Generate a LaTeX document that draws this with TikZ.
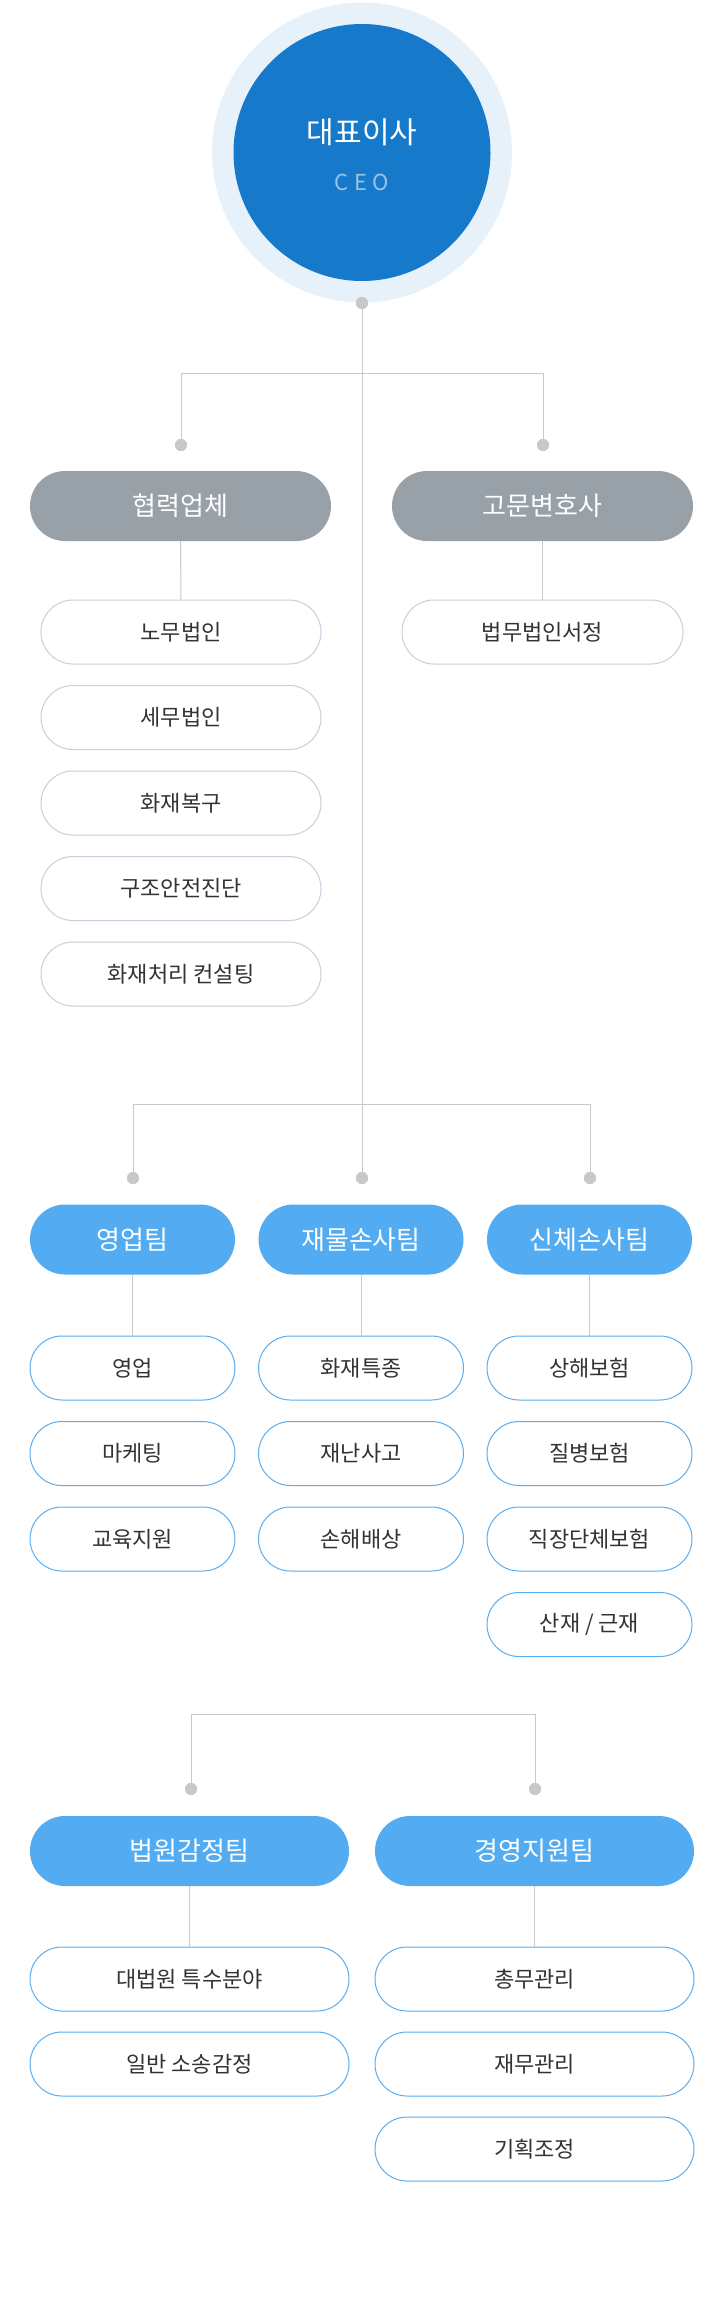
\documentclass[tikz,border=0pt]{standalone}
\usepackage{fontspec}
\usetikzlibrary{shapes.misc}
\setmainfont{Noto Sans CJK KR}
\newfontfamily\ceofont[LetterSpace=25]{Noto Sans CJK KR}
\definecolor{ceoin}{HTML}{1779C9}
\definecolor{ceoout}{HTML}{E6F1FA}
\definecolor{hgray}{HTML}{98A0A8}
\definecolor{hblue}{HTML}{53ACF2}
\definecolor{bblue}{HTML}{5AAEF0}
\definecolor{bgray}{HTML}{C5D0DD}
\definecolor{lnc}{HTML}{C8C8C8}
\definecolor{txt}{HTML}{333333}
\begin{document}
\begin{tikzpicture}[x=1pt,y=-1pt,
  ln/.style={draw=lnc,line width=1pt},
  dotn/.style={circle,fill=lnc,minimum size=12pt,inner sep=0pt},
  graybox/.style={rounded rectangle,fill=hgray,text=white,minimum height=70pt,font=\fontsize{26}{30}\selectfont,inner sep=0pt},
  bluebox/.style={rounded rectangle,fill=hblue,text=white,minimum height=70pt,font=\fontsize{26}{30}\selectfont,inner sep=0pt},
  wgbox/.style={rounded rectangle,draw=bgray,line width=1pt,fill=white,text=txt,minimum height=64pt,font=\fontsize{22}{26}\selectfont,inner sep=0pt},
  wbbox/.style={rounded rectangle,draw=bblue,line width=1pt,fill=white,text=txt,minimum height=64pt,font=\fontsize{22}{26}\selectfont,inner sep=0pt}]
\useasboundingbox[fill=white] (0,0) rectangle (720,2319);
% CEO
\fill[ceoout] (362,152.5) circle (150);
\node[circle,fill=ceoin,minimum size=257pt,inner sep=0pt] (ceo) at (362,152.5) {};
\node[text=white,font=\fontsize{30}{34}\selectfont] (ceot) at (362,132) {대표이사};
\node[text=white!55!ceoin,font=\fontsize{22}{26}\ceofont] (ceoe) at (362,182) {CEO};
\node[dotn] (d0) at (362,303) {};
% section 1
\coordinate (h1r) at (543,373);
\node[dotn] (d1l) at (181,445) {};
\node[dotn] (d1r) at (543,445) {};
\node[graybox,minimum width=301pt] (g1) at (180.5,506) {협력업체};
\node[graybox,minimum width=301pt] (g2) at (542.5,506) {고문변호사};
\foreach \t [count=\i from 0] in {노무법인,세무법인,화재복구,구조안전진단,화재처리 컨설팅}{
  \node[wgbox,minimum width=280pt] (a\i) at (181,632+85.5*\i) {\t};
}
\node[wgbox,minimum width=281pt] (b0) at (542.5,632) {법무법인서정};
% section 2
\coordinate (h2r) at (590,1104);
\node[dotn] (d2l) at (133,1178) {};
\node[dotn] (d2c) at (362,1178) {};
\node[dotn] (d2r) at (590,1178) {};
\node[bluebox,minimum width=205pt] (t1) at (132.5,1239.5) {영업팀};
\node[bluebox,minimum width=205pt] (t2) at (361,1239.5) {재물손사팀};
\node[bluebox,minimum width=205pt] (t3) at (589.5,1239.5) {신체손사팀};
\foreach \t [count=\i from 0] in {영업,마케팅,교육지원}{
  \node[wbbox,minimum width=205pt] (p\i) at (132.5,1368+85.5*\i) {\t};}
\foreach \t [count=\i from 0] in {화재특종,재난사고,손해배상}{
  \node[wbbox,minimum width=205pt] (q\i) at (361,1368+85.5*\i) {\t};}
\foreach \t [count=\i from 0] in {상해보험,질병보험,직장단체보험,산재 / 근재}{
  \node[wbbox,minimum width=205pt] (r\i) at (589.5,1368+85.5*\i) {\t};}
% section 3
\coordinate (h3r) at (535,1714);
\node[dotn] (d3l) at (191,1789) {};
\node[dotn] (d3r) at (535,1789) {};
\node[bluebox,minimum width=319pt] (u1) at (189.5,1851) {법원감정팀};
\node[bluebox,minimum width=319pt] (u2) at (534.5,1851) {경영지원팀};
\foreach \t [count=\i from 0] in {대법원 특수분야,일반 소송감정}{
  \node[wbbox,minimum width=319pt] (v\i) at (189.5,1979+85*\i) {\t};}
\foreach \t [count=\i from 0] in {총무관리,재무관리,기획조정}{
  \node[wbbox,minimum width=319pt] (w\i) at (534.5,1979+85*\i) {\t};}
% connectors
\draw[ln] (d0) -- (d2c);
\draw[ln] (d1l) |- (h1r) -- (d1r);
\draw[ln] (d2l) |- (h2r) -- (d2r);
\draw[ln] (d3l) |- (h3r) -- (d3r);
\draw[ln] (g1.south) -- (a0.north);
\draw[ln] (g2.south) -- (b0.north);
\draw[ln] (t1.south) -- (p0.north);
\draw[ln] (t2.south) -- (q0.north);
\draw[ln] (t3.south) -- (r0.north);
\draw[ln] (u1.south) -- (v0.north);
\draw[ln] (u2.south) -- (w0.north);
\fill[lnc] (d0) circle (6) (d1l) circle (6) (d1r) circle (6) (d2l) circle (6) (d2c) circle (6) (d2r) circle (6) (d3l) circle (6) (d3r) circle (6);
\end{tikzpicture}
\end{document}
